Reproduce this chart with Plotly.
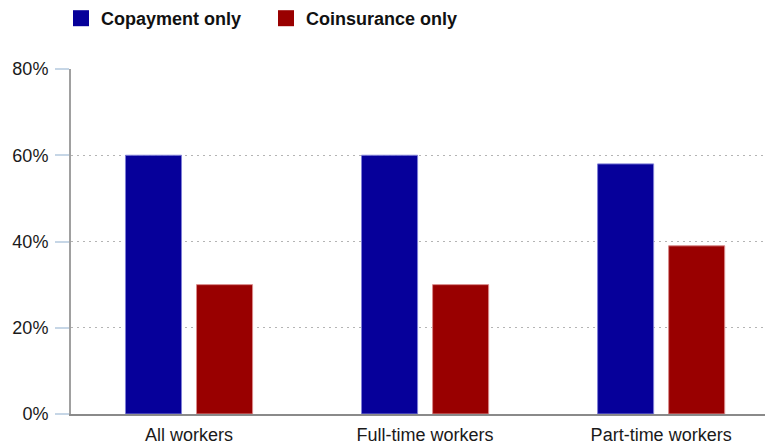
import plotly.graph_objects as go

# Share of workers by cost-sharing type for office visits
categories = ["All workers", "Full-time workers", "Part-time workers"]
copayment_only = [60, 60, 58]
coinsurance_only = [30, 30, 39]
y_ticks = [0, 20, 40, 60, 80]
y_tick_labels = ["0%", "20%", "40%", "60%", "80%"]

BLUE = "#06009a"
RED = "#990000"
FONT = "Liberation Sans, Arial, sans-serif"

fig = go.Figure()
fig.add_trace(go.Bar(
    x=categories, y=copayment_only, name="Copayment only",
    marker=dict(color=BLUE, line=dict(color="#7f7fd6", width=1)),
    showlegend=False,
))
fig.add_trace(go.Bar(
    x=categories, y=coinsurance_only, name="Coinsurance only",
    marker=dict(color=RED, line=dict(color="#d98a8a", width=1)),
    showlegend=False,
))
# Legend entries with large square swatches
for name, color in [("Copayment only", BLUE), ("Coinsurance only", RED)]:
    fig.add_trace(go.Scatter(
        x=[None], y=[None], mode="markers", name=name,
        marker=dict(symbol="square", size=16, color=color),
    ))

fig.update_layout(
    width=765, height=445,
    margin=dict(l=71, r=0, t=69, b=31),
    plot_bgcolor="white", paper_bgcolor="white",
    barmode="group", bargap=0.398, bargroupgap=0.211,
    font=dict(family=FONT, size=18, color="#1a1a1a"),
    legend=dict(
        orientation="h", x=-0.0144, xanchor="left", y=1.2016, yanchor="top",
        font=dict(family=FONT, size=18, color="#111111", weight="bold"),
        entrywidth=160, entrywidthmode="pixels",
        bgcolor="rgba(0,0,0,0)",
    ),
    showlegend=True,
)
fig.update_xaxes(
    range=[-0.5, 2.44], showgrid=False, showline=True,
    linecolor="#8a8a8a", linewidth=1.5, ticks="", ticklabelstandoff=4,
    zeroline=False, automargin=False,
)
fig.update_yaxes(
    range=[0, 80], tickvals=y_ticks, ticktext=y_tick_labels,
    showgrid=True, gridcolor="#b4b4b4", griddash="1.5px,4.5px", gridwidth=1.2,
    showline=True, linecolor="#a0a0a0", linewidth=2,
    ticks="outside", ticklen=14, tickcolor="#c6d6e6", tickwidth=1.5,
    ticklabelstandoff=3, zeroline=False, automargin=False,
)

fig.write_html("out.html")
